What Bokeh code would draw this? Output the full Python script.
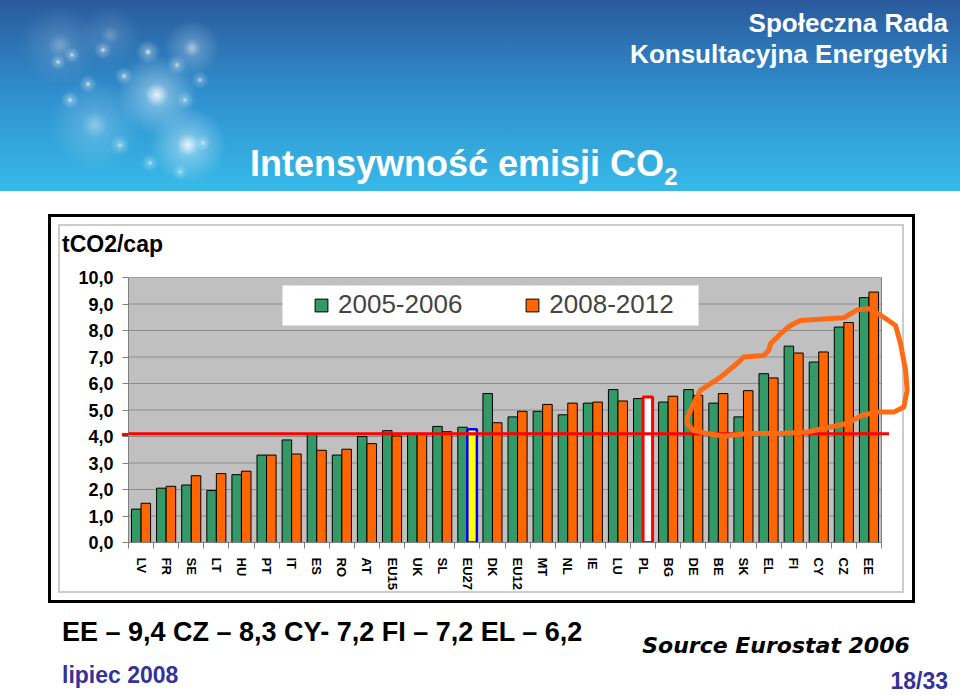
import numpy as np
from bokeh.plotting import figure
from bokeh.layouts import column
from bokeh.models import (ColumnDataSource, Range1d, FixedTicker, BoxAnnotation,
                          PolyAnnotation, Legend, LegendItem, Div)
from bokeh.embed import file_html
from bokeh.resources import INLINE

# ---------------- data ----------------
countries = ["LV", "FR", "SE", "LT", "HU", "PT", "IT", "ES", "RO", "AT",
             "EU15", "UK", "SL", "EU27", "DK", "EU12", "MT", "NL", "IE", "LU",
             "PL", "BG", "DE", "BE", "SK", "EL", "FI", "CY", "CZ", "EE"]
v_2005_2006 = [1.26, 2.05, 2.17, 1.96, 2.56, 3.30, 3.87, 4.10, 3.30, 4.00,
               4.22, 4.10, 4.38, 4.35, 5.62, 4.74, 4.95, 4.82, 5.26, 5.77,
               5.43, 5.30, 5.77, 5.26, 4.74, 6.37, 7.41, 6.81, 8.13, 9.24]
v_2008_2012 = [1.48, 2.12, 2.52, 2.60, 2.69, 3.30, 3.34, 3.48, 3.52, 3.73,
               4.02, 4.08, 4.18, 4.27, 4.52, 4.95, 5.21, 5.26, 5.30, 5.34,
               5.49, 5.52, 5.55, 5.62, 5.73, 6.21, 7.15, 7.19, 8.30, 9.45]
series_names = ["2005-2006", "2008-2012"]
y_ticks = [0, 1, 2, 3, 4, 5, 6, 7, 8, 9, 10]
y_tick_labels = ["0,0", "1,0", "2,0", "3,0", "4,0", "5,0", "6,0", "7,0", "8,0", "9,0", "10,0"]
reference_level = 4.1
# hand-drawn orange loop (data coordinates: category slot, tCO2/cap)
loop_x = [22.26, 22.78, 23.59, 24.31, 24.51, 25.31, 25.51, 25.58, 25.98, 26.37, 26.77,
          27.84, 28.50, 28.76, 29.03, 29.56, 30.09, 30.56, 30.76, 30.96, 31.02, 30.89,
          30.49, 29.83, 29.23, 28.63, 27.97, 27.04, 25.98, 24.64, 23.72, 23.06, 22.52, 22.26]
loop_y = [4.73, 5.74, 6.24, 6.81, 7.00, 7.06, 7.25, 7.50, 7.88, 8.19, 8.38,
          8.44, 8.48, 8.63, 8.78, 8.82, 8.50, 8.19, 7.50, 6.49, 5.74, 5.11,
          4.92, 4.92, 4.80, 4.49, 4.36, 4.17, 4.11, 4.11, 4.01, 4.11, 4.23, 4.48]
title_text = "Intensywność emisji CO"
org_lines = ["Społeczna Rada", "Konsultacyjna Energetyki"]
unit_text = "tCO2/cap"
note_text = "EE – 9,4 CZ – 8,3 CY- 7,2 FI – 7,2 EL – 6,2"
source_text = "Source Eurostat 2006"
date_text = "lipiec 2008"
page_text = "18/33"

# ---------------- styles ----------------
GREEN = "#339966"
ORANGE = "#ff6600"
FONT = "Liberation Sans"
highlight = {"EU27": ("#ffff00", "#0000ff", 2.5), "PL": ("#ffffff", "#ff0000", 3.0)}

W, H = 960, 695
PL_, PR_, PT_, PB_ = 128, 881, 277, 542    # plot area on the page (px)

n = len(countries)
pos = np.arange(n) + 0.5
off, bw = 0.19, 0.38
x_end = n * (W - PL_) / (PR_ - PL_)       # frame runs to the right edge of the page

def sx(rx):
    return rx - PL_

def sy(ry):
    return PB_ - ry

p = figure(width=W, height=H, x_range=Range1d(0, x_end), y_range=Range1d(0, 10),
           output_backend="svg", toolbar_location=None,
           min_border_left=PL_, min_border_right=0, min_border_top=PT_, min_border_bottom=H - PB_)
p.background_fill_alpha = 0
p.border_fill_alpha = 0
p.outline_line_color = None
p.xgrid.visible = False
p.ygrid.visible = False
p.margin = (-H, 0, 0, 0)

# plot area background + grid
p.add_layout(BoxAnnotation(left=0, right=n, bottom=0, top=10, fill_color="#c0c0c0", fill_alpha=1,
                           line_color="#808080", line_alpha=1, line_width=1, level="underlay"))
p.segment(x0=[0] * len(y_ticks), x1=[n] * len(y_ticks), y0=y_ticks, y1=y_ticks,
          line_color="#8c8c8c", line_width=1)

# axes
ya = p.yaxis[0]
ya.ticker = FixedTicker(ticks=y_ticks)
ya.bounds = (0, 10)
ya.major_label_overrides = {t: l for t, l in zip(y_ticks, y_tick_labels)}
ya.major_label_text_font = FONT
ya.major_label_text_font_style = "bold"
ya.major_label_text_font_size = "18px"
ya.major_label_text_color = "black"
ya.axis_line_color = "#808080"
ya.major_tick_line_color = "#808080"
ya.major_tick_out = 6
ya.major_tick_in = 0
ya.minor_tick_line_color = None
ya.major_label_standoff = 9

xa = p.xaxis[0]
xa.ticker = FixedTicker(ticks=list(pos), minor_ticks=list(np.arange(n + 1)))
xa.bounds = (0, n)
xa.major_label_overrides = {float(x): c for x, c in zip(pos, countries)}
xa.major_label_orientation = "vertical"
xa.major_label_text_font = FONT
xa.major_label_text_font_style = "bold"
xa.major_label_text_font_size = "13px"
xa.major_label_text_color = "black"
xa.axis_line_color = "#808080"
xa.major_tick_line_color = None
xa.major_tick_out = 0
xa.minor_tick_line_color = "#808080"
xa.minor_tick_out = 6
xa.minor_tick_in = 0
xa.major_label_standoff = 9

# bars
src_g = ColumnDataSource(dict(x=pos - off, top=v_2005_2006))
fills = [highlight.get(c, (ORANGE, "black", 1.0))[0] for c in countries]
lines = [highlight.get(c, (ORANGE, "black", 1.0))[1] for c in countries]
lws = [highlight.get(c, (ORANGE, "black", 1.0))[2] for c in countries]
src_o = ColumnDataSource(dict(x=pos + off, top=v_2008_2012, fill=fills, line=lines, lw=lws))
r1 = p.vbar(x="x", top="top", width=bw, source=src_g, fill_color=GREEN,
            line_color="black", line_width=1)
r2 = p.vbar(x="x", top="top", width=bw, source=src_o, fill_color="fill",
            line_color="line", line_width="lw")

# legend box + legend
p.add_layout(BoxAnnotation(left=sx(282), right=sx(698), top=sy(285), bottom=sy(325),
                           left_units="screen", right_units="screen",
                           top_units="screen", bottom_units="screen",
                           fill_color="white", fill_alpha=1, line_color=None))
legend = Legend(items=[LegendItem(label=series_names[0], renderers=[r1]),
                       LegendItem(label=series_names[1], renderers=[r2], index=0)],
                orientation="horizontal", location=(sx(313), sy(320)),
                glyph_width=16, glyph_height=16, label_standoff=9, spacing=62,
                padding=0, margin=0, border_line_color=None, background_fill_alpha=0,
                label_text_font=FONT, label_text_font_size="26px")
p.add_layout(legend)

# red reference line
p.add_layout(BoxAnnotation(left=-0.3, right=n + 0.3, top=reference_level, bottom=reference_level,
                           fill_alpha=0, line_color="#ff0000", line_alpha=1, line_width=3))

# hand-drawn loop
p.add_layout(PolyAnnotation(xs=loop_x, ys=loop_y, fill_alpha=0, line_color="#ff6a13",
                            line_alpha=1, line_width=5, line_join="round"))

# ---------------- slide background (header, frame, texts) ----------------
F = "'Liberation Sans', Arial, sans-serif"
glows = []
for (gx, gy, r, a) in [(157, 95, 40, 0.9), (188, 145, 38, 0.9), (95, 125, 45, 0.45),
                       (192, 48, 28, 0.6), (60, 45, 40, 0.35), (110, 35, 30, 0.3),
                       (148, 52, 12, 0.8), (103, 50, 9, 0.8), (58, 62, 8, 0.8), (72, 55, 8, 0.8),
                       (88, 84, 9, 0.8), (124, 76, 9, 0.8), (70, 100, 9, 0.8), (177, 65, 10, 0.7),
                       (200, 80, 9, 0.7), (185, 100, 9, 0.7), (120, 145, 10, 0.7), (150, 163, 9, 0.7),
                       (180, 172, 8, 0.6), (203, 143, 8, 0.7)]:
    glows.append(f"radial-gradient(circle {r}px at {gx}px {gy}px, rgba(255,255,255,{a}) 0%, "
                 f"rgba(255,255,255,{a * 0.35:.2f}) 30%, rgba(255,255,255,0) 100%)")
header_bg = ", ".join(glows + ["linear-gradient(to bottom, #2a5a9c 0%, #3090cf 50%, #37bae8 100%)"])

def txt(text, left=None, right=None, top=0, size=20, color="black", weight="bold",
        style="normal", family=F, extra=""):
    hpos = f"left:{left}px;" if left is not None else f"right:{right}px;"
    return (f'<div style="position:absolute;{hpos}top:{top}px;font-family:{family};'
            f'font-size:{size}px;font-weight:{weight};font-style:{style};color:{color};'
            f'line-height:1;white-space:nowrap;{extra}">{text}</div>')

html = (
    f'<div style="position:relative;width:{W}px;height:{H}px;background:white;">'
    f'<div style="position:absolute;left:0;top:0;width:{W}px;height:191px;background:{header_bg};"></div>'
    + txt(org_lines[0], right=12, top=10, size=26, color="white")
    + txt(org_lines[1], right=12, top=41, size=26, color="white")
    + txt(title_text + '<span style="font-size:24px;position:relative;top:9px;">2</span>',
          left=250, top=146, size=36, color="white")
    + '<div style="position:absolute;left:48px;top:214px;width:867px;height:389px;'
      'border:3px solid black;box-sizing:border-box;"></div>'
    + '<div style="position:absolute;left:58px;top:224px;width:846px;height:369px;'
      'border:2px solid #cccccc;box-sizing:border-box;"></div>'
    + '<div style="position:absolute;left:122px;top:433px;width:8px;height:3px;background:#ff0000;"></div>'
    + txt(unit_text, left=62, top=233, size=23)
    + txt(note_text, left=62, top=619, size=27)
    + txt(source_text, left=576, top=635, size=22, style="italic",
          family="'DejaVu Sans', sans-serif", extra="width:400px;text-align:center;")
    + txt(date_text, left=62, top=664, size=23, color="#333399")
    + txt(page_text, right=12, top=670, size=23, color="#333399")
    + '</div>'
)
bg = Div(text=html, width=W, height=H, margin=(0, 0, 0, 0))

layout = column(bg, p, spacing=0)
open("out.html", "w").write(file_html(layout, INLINE))
